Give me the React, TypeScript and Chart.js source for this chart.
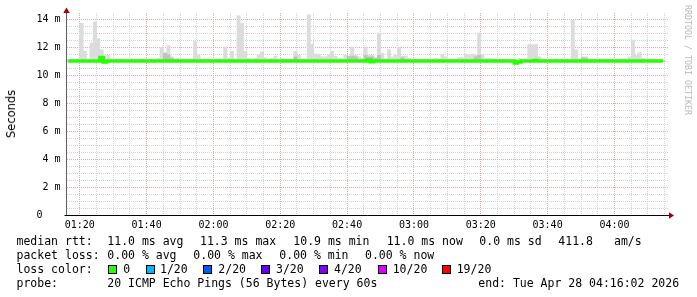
import React, { useEffect, useRef } from "react";
import { Chart, registerables } from "chart.js";

Chart.register(...registerables);

// ---- data ----
// time axis in minutes since 00:00 (graph spans 01:16:02 .. 04:16:02)
const START_MIN = 76.03;
const END_MIN = 256.03;
const Y_MAX = 14.43; // ms

const timeTickLabels = ["01:20", "01:40", "02:00", "02:20", "02:40", "03:00", "03:20", "03:40", "04:00"];

// median RTT per 60s step (ms)
const medianRtt = [
  11, 11, 11, 11, 11, 11, 11, 11, 11, 11, 11.25, 10.93, 11, 11, 11, 11, 11, 11, 11, 11,
  11, 11, 11, 11, 11, 11, 11, 11, 11, 11, 11, 11, 11, 11, 11, 11, 11, 11, 11, 11,
  11, 11, 11, 11, 11, 11, 11, 11, 11, 11, 11, 11, 11, 11, 11, 11, 11, 11, 11, 11,
  11, 11, 11, 11, 11, 11, 11, 11, 11, 11, 11, 11, 11, 11, 11, 11, 11, 11, 11, 11,
  11, 11, 11, 11, 11, 11, 11, 11, 11, 11, 11.07, 10.95, 11, 11, 11, 11, 11, 11, 11, 11,
  11, 11, 11, 11, 11, 11, 11, 11, 11, 11, 11, 11, 11, 11, 11, 11, 11, 11, 11, 11,
  11, 11, 11, 11, 11, 11, 11, 11, 11, 11, 11, 11, 11, 11, 10.86, 10.93, 11, 11, 11, 11,
  11.04, 11, 11, 11, 11, 11, 11, 11, 11, 11, 11, 11, 11, 11, 11, 11, 11, 11, 11, 11,
  11, 11, 11, 11, 11, 11, 11, 11, 11, 11, 11, 11, 11, 11, 11, 11, 11, 11, 11,
];

// smoke: highest ping per step (ms)
const smokeMax = [
  11.1, 11.1, 11.12, 11.15, 13.7, 11.7, 11.1, 12.3, 13.8, 12.6,
  11.8, 11.2, 11.4, 11.1, 11.15, 11.1, 11.15, 11.1, 11.1, 11.15,
  11.1, 11.1, 11.15, 11.15, 11.1, 11.1, 11.1, 11.2, 12.0, 11.6,
  12.1, 11.3, 11.2, 11.2, 11.15, 11.1, 11.1, 11.1, 12.4, 11.4,
  11.1, 11.1, 11.15, 11.1, 11.1, 11.15, 11.1, 12.0, 11.2, 11.7,
  11.15, 14.23, 13.7, 11.7, 11.2, 11.1, 11.2, 11.4, 11.65, 11.25,
  11.1, 11.2, 11.35, 11.1, 11.2, 11.1, 11.1, 11.1, 11.7, 11.4,
  11.1, 11.15, 14.3, 12.2, 11.5, 11.5, 11.3, 11.3, 11.45, 11.7,
  11.35, 11.2, 11.15, 11.4, 11.3, 12.0, 11.4, 11.3, 11.2, 12.0,
  11.4, 11.4, 11.25, 13.0, 11.55, 11.15, 11.8, 11.3, 11.4, 12.0,
  11.35, 11.35, 11.2, 11.1, 11.1, 11.1, 11.1, 11.15, 11.15, 11.1,
  11.2, 11.1, 11.5, 11.3, 11.1, 11.1, 11.1, 11.25, 11.25, 11.5,
  11.4, 11.5, 11.4, 13.0, 11.45, 11.2, 11.2, 11.15, 11.1, 11.1,
  11.1, 11.1, 11.1, 11.1, 11.15, 11.15, 11.1, 11.1, 12.17, 12.17,
  12.17, 11.3, 11.1, 11.1, 11.1, 11.1, 11.15, 11.1, 11.1, 11.1,
  11.1, 13.9, 11.8, 11.15, 11.3, 11.3, 11.15, 11.1, 11.1, 11.1,
  11.15, 11.15, 11.1, 11.1, 11.1, 11.1, 11.1, 11.15, 11.3, 12.5,
  11.4, 11.6, 11.2, 11.15, 11.1, 11.1, 11.1, 11.1, 11.1,
];

// smoke: denser inner band top per step (ms)
const smokeInner = [
  11, 11, 11, 11, 11, 11, 11, 11, 11, 11,
  11, 11, 11, 11, 11, 11, 11, 11, 11, 11,
  11, 11, 11, 11, 11, 11, 11, 11, 11, 11.55,
  11.45, 11.2, 11, 11, 11, 11, 11, 11, 11, 11,
  11, 11, 11, 11, 11, 11, 11, 11, 11, 11,
  11, 11, 11, 11, 11, 11, 11, 11, 11, 11,
  11, 11, 11, 11, 11, 11, 11, 11, 11.3, 11,
  11, 11, 11, 11, 11, 11, 11, 11, 11, 11,
  11, 11, 11, 11, 11.35, 11.35, 11.3, 11, 11, 11.4,
  11.3, 11.3, 11.2, 11.4, 11, 11, 11, 11, 11, 11,
  11.25, 11, 11, 11, 11, 11, 11, 11, 11, 11,
  11, 11, 11, 11, 11, 11, 11, 11, 11, 11,
  11, 11, 11.3, 11.4, 11, 11, 11, 11, 11, 11,
  11, 11, 11, 11, 11, 11, 11, 11, 11, 11,
  11, 11, 11, 11, 11, 11, 11, 11, 11, 11,
  11, 11, 11, 11, 11.25, 11.2, 11, 11, 11, 11,
  11, 11, 11, 11, 11, 11, 11, 11, 11, 11,
  11, 11, 11, 11, 11, 11, 11, 11, 11,
];
const SMOKE_FLOOR = 10.95;

const rttStats = ["11.0 ms avg", "11.3 ms max", "10.9 ms min", "11.0 ms now", "0.0 ms sd", "411.8", "am/s"];
const lossStats = ["0.00 % avg", "0.00 % max", "0.00 % min", "0.00 % now"];
const lossLabels = ["0", "1/20", "2/20", "3/20", "4/20", "10/20", "19/20"];
const lossColors = ["#26ff00", "#00b8ff", "#0059ff", "#5e00ff", "#7e00ff", "#dd00ff", "#ff0000"];
const probeText = "20 ICMP Echo Pings (56 Bytes) every 60s";
const endText = "end: Tue Apr 28 04:16:02 2026";

// ---- layout (pixels) ----
const rttX = [107.3, 200, 293.3, 386.7, 479.3, 558.3, 614];
const lossX = [107.3, 193.3, 279.3, 365];
const boxX = [108, 145.5, 203, 261, 319, 377.5, 442];
const lossLabelX = [123.3, 160, 218.3, 276, 334, 392.7, 456.7];
const LINE_TOPS = [235.5, 249.5, 263.5, 277.5];

const MONO = "'DejaVu Sans Mono', monospace";

function fmtTime(m: number) {
  const h = Math.floor(m / 60);
  const mm = Math.round(m - h * 60);
  return `${String(h).padStart(2, "0")}:${String(mm).padStart(2, "0")}`;
}

const axisPlugin = {
  id: "rrdAxes",
  afterDraw(chart: any) {
    const { ctx, chartArea } = chart;
    const { left, right, top, bottom } = chartArea;
    ctx.save();
    // y axis
    ctx.strokeStyle = "#606060";
    ctx.lineWidth = 1;
    ctx.beginPath();
    ctx.moveTo(left, bottom + 1);
    ctx.lineTo(left, top - 3);
    ctx.stroke();
    // x axis
    ctx.strokeStyle = "#000";
    ctx.beginPath();
    ctx.moveTo(left - 2, bottom + 0.5);
    ctx.lineTo(right + 2, bottom + 0.5);
    ctx.stroke();
    // arrows
    ctx.fillStyle = "#a00000";
    ctx.beginPath();
    ctx.moveTo(left, top - 5.5);
    ctx.lineTo(left - 3.2, top);
    ctx.lineTo(left + 3.2, top);
    ctx.closePath();
    ctx.fill();
    ctx.beginPath();
    ctx.moveTo(right + 6, bottom + 0.5);
    ctx.lineTo(right + 1, bottom - 2.7);
    ctx.lineTo(right + 1, bottom + 3.7);
    ctx.closePath();
    ctx.fill();
    ctx.restore();
  },
};

export default function App() {
  const ref = useRef<HTMLCanvasElement>(null);

  useEffect(() => {
    const canvas = ref.current!;
    const stepMinute = (i: number) => START_MIN + i + 0.5;
    const barCommon = {
      type: "bar" as const,
      grouped: false,
      barPercentage: 1,
      categoryPercentage: 1,
      borderWidth: 0,
    };
    const chart = new Chart(canvas, {
      type: "bar",
      data: {
        datasets: [
          {
            type: "line",
            label: "median rtt",
            data: medianRtt.map((v, i) => ({ x: stepMinute(i), y: v })),
            borderColor: "#26ff00",
            borderWidth: 3.5,
            pointRadius: 0,
            stepped: "middle",
            order: 0,
          } as any,
          {
            ...barCommon,
            label: "smoke inner",
            data: smokeInner.map((v, i) => ({ x: stepMinute(i), y: [SMOKE_FLOOR, v] })),
            backgroundColor: "#c2c2c2",
            order: 1,
          } as any,
          {
            ...barCommon,
            label: "smoke",
            data: smokeMax.map((v, i) => ({ x: stepMinute(i), y: [SMOKE_FLOOR, v] })),
            backgroundColor: "#dcdcdc",
            order: 2,
          } as any,
        ],
      },
      options: {
        responsive: false,
        animation: false,
        events: [],
        layout: { padding: { left: 0, top: 13, right: 29, bottom: 66 } },
        plugins: { legend: { display: false }, tooltip: { enabled: false }, title: { display: false } },
        scales: {
          x: {
            type: "linear",
            offset: false,
            min: START_MIN,
            max: END_MIN,
            afterFit: (a: any) => {
              a.height = 16;
            },
            afterBuildTicks: (a: any) => {
              const t: any[] = [];
              for (let m = Math.ceil(START_MIN / 5) * 5; m < END_MIN; m += 5) t.push({ value: m });
              a.ticks = t;
            },
            grid: {
              offset: false,
              drawTicks: false,
              lineWidth: 1,
              color: (c: any) => (c.tick && c.tick.value % 20 === 0 ? "#e3a5a5" : "#d2d2d2"),
            },
            border: { display: false, dash: [1, 1] },
            ticks: {
              autoSkip: false,
              maxRotation: 0,
              padding: 4,
              color: "#000",
              font: { family: MONO, size: 10 },
              callback: (v: any) => {
                const s = fmtTime(Number(v));
                return Number(v) % 20 === 0 && timeTickLabels.includes(s) ? s : "";
              },
            },
          },
          y: {
            type: "linear",
            min: 0,
            max: Y_MAX,
            afterFit: (a: any) => {
              a.width = 66.5;
            },
            afterBuildTicks: (a: any) => {
              const t: any[] = [];
              for (let k = 0; k <= 28; k++) t.push({ value: k / 2 });
              a.ticks = t;
            },
            grid: {
              drawTicks: false,
              lineWidth: 1,
              color: (c: any) => (c.tick && c.tick.value % 2 === 0 ? "#e3a5a5" : "#d2d2d2"),
            },
            border: { display: false, dash: [1, 1] },
            ticks: {
              autoSkip: false,
              padding: 6,
              color: "#000",
              font: { family: MONO, size: 10 },
              callback: (v: any) => {
                const n = Number(v);
                if (n % 2 !== 0) return "";
                return n === 0 ? "0   " : `${n} m`;
              },
            },
          },
        },
      },
      plugins: [axisPlugin],
    } as any);
    return () => chart.destroy();
  }, []);

  const textStyle: React.CSSProperties = {
    position: "absolute",
    fontFamily: MONO,
    fontSize: "11.5px",
    lineHeight: "11.5px",
    whiteSpace: "pre",
    color: "#000",
  };

  return (
    <div style={{ position: "fixed", left: 0, top: 0, width: 697, height: 297, background: "#fff", overflow: "hidden" }}>
      <canvas ref={ref} width={697} height={297} style={{ position: "absolute", left: 0, top: 0 }} />
      <div
        style={{
          position: "absolute",
          left: 11,
          top: 114,
          transform: "translate(-50%, -50%) rotate(-90deg)",
          fontFamily: "'DejaVu Sans', sans-serif",
          fontSize: "11.5px",
          whiteSpace: "nowrap",
          color: "#000",
        }}
      >
        Seconds
      </div>
      <div
        style={{
          position: "absolute",
          left: 688,
          top: 60,
          transform: "translate(-50%, -50%) rotate(90deg)",
          fontFamily: MONO,
          fontSize: "8.3px",
          whiteSpace: "nowrap",
          color: "#b8b8b8",
        }}
      >
        RRDTOOL / TOBI OETIKER
      </div>

      <span style={{ ...textStyle, left: 16.5, top: LINE_TOPS[0] }}>median rtt:</span>
      {rttStats.map((s, i) => (
        <span key={"r" + i} style={{ ...textStyle, left: rttX[i], top: LINE_TOPS[0] }}>{s}</span>
      ))}

      <span style={{ ...textStyle, left: 16.5, top: LINE_TOPS[1] }}>packet loss:</span>
      {lossStats.map((s, i) => (
        <span key={"l" + i} style={{ ...textStyle, left: lossX[i], top: LINE_TOPS[1] }}>{s}</span>
      ))}

      <span style={{ ...textStyle, left: 16.5, top: LINE_TOPS[2] }}>loss color:</span>
      {lossLabels.map((s, i) => (
        <React.Fragment key={"c" + i}>
          <span
            style={{
              position: "absolute",
              left: boxX[i],
              top: 265,
              width: 7,
              height: 7,
              background: lossColors[i],
              border: "1px solid #000",
            }}
          />
          <span style={{ ...textStyle, left: lossLabelX[i], top: LINE_TOPS[2] }}>{s}</span>
        </React.Fragment>
      ))}

      <span style={{ ...textStyle, left: 16.5, top: LINE_TOPS[3] }}>probe:</span>
      <span style={{ ...textStyle, left: 107.3, top: LINE_TOPS[3] }}>{probeText}</span>
      <span style={{ ...textStyle, left: 478.3, top: LINE_TOPS[3] }}>{endText}</span>
    </div>
  );
}
